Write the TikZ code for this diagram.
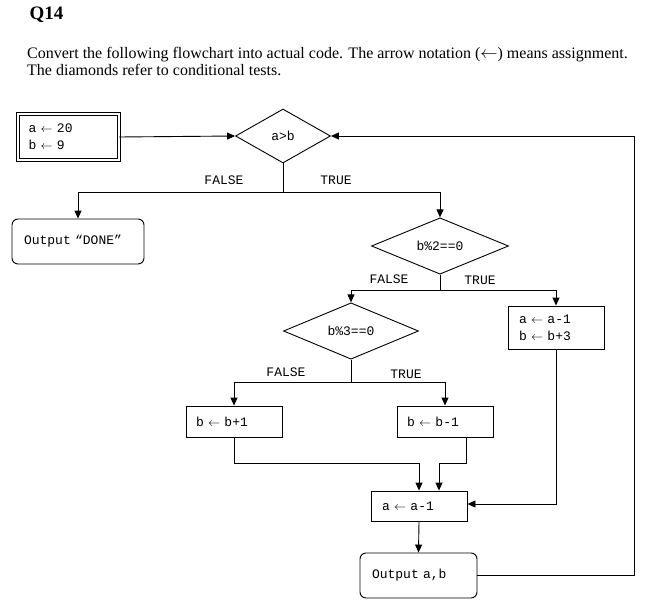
\documentclass[tikz,border=0pt]{standalone}
\usepackage{fontspec}
\setmainfont{Liberation Serif}
\newfontfamily\codefont{Liberation Mono}
\newcommand\asg{\ensuremath{\leftarrow}}
\usetikzlibrary{shapes.geometric,arrows.meta}

\begin{document}
\begin{tikzpicture}[x=1pt,y=-1pt,
  every node/.style={font=\codefont\fontsize{13}{17}\selectfont},
  arr/.style={line width=0.9pt,-{Triangle[length=8pt,width=7pt]}},
  line/.style={line width=0.9pt},
  test/.style={diamond,draw,line width=0.9pt,inner sep=0pt},
  assign/.style={rectangle,draw,line width=0.9pt,align=left,inner xsep=11pt,inner ysep=0pt},
  outbox/.style={rectangle,draw,rounded corners=6pt,line width=0.9pt,align=left,inner xsep=12pt,inner ysep=0pt}]
\useasboundingbox (0,0) rectangle (651,610);
\node[anchor=base west,font=\bfseries\fontsize{19}{22}\selectfont] (title) at (26,20) {Q14};
\node[anchor=base west,inner sep=0pt,font=\fontsize{16}{16}\selectfont] (line1) at (27,59) {Convert the following flowchart into actual code. The arrow notation (\asg) means assignment.};
\node[anchor=base west,inner sep=0pt,font=\fontsize{16}{16}\selectfont] (line2) at (27,76) {The diamonds refer to conditional tests.};

\node[assign,double,double distance=2pt,line width=1pt,text width=79pt,minimum height=46pt,inner xsep=11pt] (init) at (68,137) {a \asg{} 20\\b \asg{} 9};
\node[test,minimum width=95pt,minimum height=54pt] (agtb) at (283,136) {a>b};
\node[outbox,text width=108pt,minimum height=45pt] (done) at (78,241.5) {Output “DONE”};
\node[test,minimum width=137pt,minimum height=53pt] (even) at (440,246) {b\%2==0};
\node[assign,text width=74pt,minimum height=43pt] (evenbox) at (556,327.5) {a \asg{} a-1\\b \asg{} b+3};
\node[test,minimum width=135pt,minimum height=53pt] (three) at (351,331) {b\%3==0};
\node[assign,text width=76pt,minimum height=31pt,inner xsep=10pt] (incb) at (234,421.5) {b \asg{} b+1};
\node[assign,text width=76pt,minimum height=31pt,inner xsep=10pt] (decb) at (445,421.5) {b \asg{} b-1};
\node[assign,text width=74pt,minimum height=30pt] (deca) at (419,506) {a \asg{} a-1};
\node[outbox,text width=93pt,minimum height=45pt] (outab) at (418.5,575.5) {Output a,b};

\coordinate (s1) at (283,192);
\coordinate (s2) at (440,290);
\coordinate (s3) at (351,382);

\draw[arr] (init.east) -- (agtb.west);
\draw[line] (agtb.south) -- (s1);
\draw[arr] (s1) -| (done.north);
\draw[arr] (s1) -| (even.north);
\node (f1) at (224,180) {FALSE};
\node (t1) at (336,180) {TRUE};

\draw[line] (even.south) -- (s2);
\draw[arr] (s2) -| (three.north);
\draw[arr] (s2) -| (evenbox.north);
\node (f2) at (389,279) {FALSE};
\node (t2) at (480,280) {TRUE};

\draw[line] (three.south) -- (s3);
\draw[arr] (s3) -| (incb.north);
\draw[arr] (s3) -| (decb.north);
\node (f3) at (286,372) {FALSE};
\node (t3) at (406,374) {TRUE};

\draw[arr] (incb.south) -- ++(0,26) -| (deca.north);
\draw[arr] ([xshift=21pt]decb.south) -- ++(0,26) -| ([xshift=20pt]deca.north);
\draw[arr] (evenbox.south) |- ([yshift=2pt]deca.east);
\draw[arr] (deca.south) -- (outab.north);
\draw[arr] (outab.east) -- ++(157,0) |- (agtb.east);
\end{tikzpicture}
\end{document}
